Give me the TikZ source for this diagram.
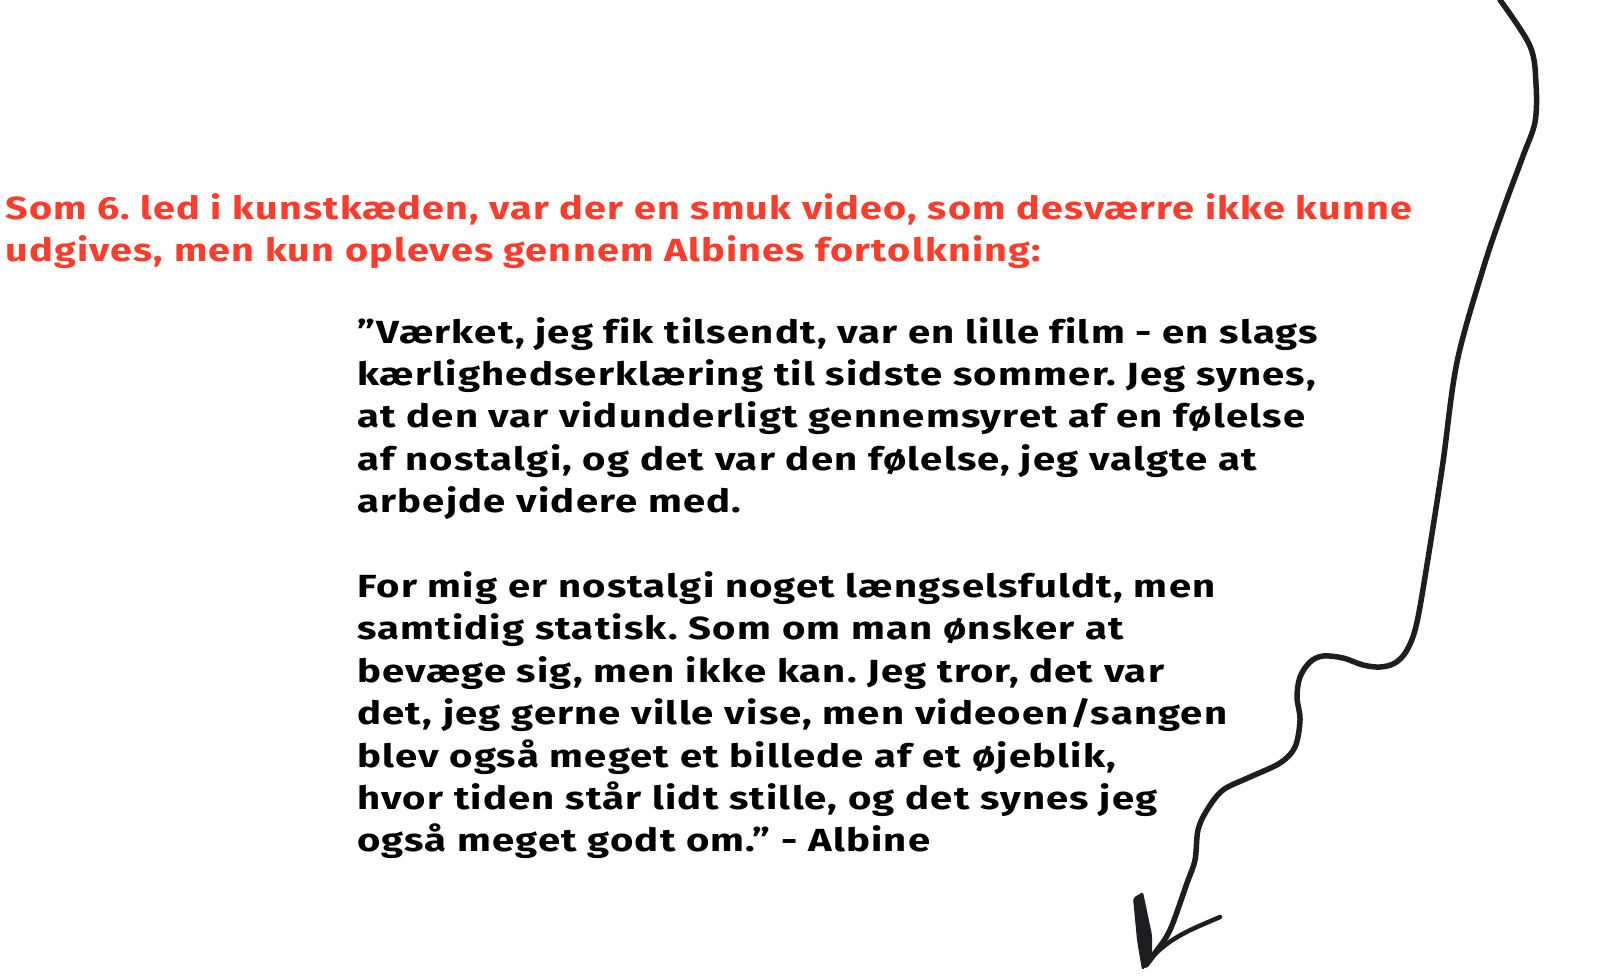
\documentclass[tikz,border=0pt]{standalone}
\usepackage{fontspec}
\usepackage{graphicx}
\newfontfamily\qfont{Fira Sans}[LetterSpace=3, Ligatures=NoCommon]
\definecolor{headred}{RGB}{255,59,43}
\definecolor{ink}{RGB}{30,30,32}
\newsavebox\probebox
\newsavebox\probeboxred
\newlength\probewd
\newlength\probewdred
\frenchspacing
\begin{document}
\sbox\probebox{\qfont\bfseries\fontsize{32}{40}\selectfont ”Værket, jeg fik tilsendt, var en lille film - en slags}%
\sbox\probeboxred{\qfont\bfseries\fontsize{32}{40}\selectfont Som 6. led i kunstkæden, var der en smuk video, som desværre ikke kunne}%
\setlength\probewd{\wd\probebox}%
\setlength\probewdred{\wd\probeboxred}%
\pgfmathsetmacro\qstretch{961/\probewd}%
\pgfmathsetmacro\rstretch{1407/\probewdred}%
\begin{tikzpicture}[x=1pt,y=-1pt]
\useasboundingbox[fill=white] (0,0) rectangle (1600,979);
\tikzset{
  quoteline/.style={anchor=base west, inner sep=0pt, text=black,
    font=\qfont\bfseries\fontsize{32}{40}\selectfont},
  headline/.style={anchor=base west, inner sep=0pt, text=headred,
    font=\qfont\bfseries\fontsize{32}{40}\selectfont},
  arrowink/.style={draw=ink, line width=5.5pt, line cap=round, line join=round}
}
% heading
\node[headline] (r1) at (5,219) {\scalebox{\rstretch}[1]{Som 6. led i kunstkæden, var der en smuk video, som desværre ikke kunne}};
\node[headline] (r2) at (5,261) {\scalebox{\rstretch}[1]{udgives, men kun opleves gennem Albines fortolkning:}};
% quote, paragraph 1
\node[quoteline] (q1) at (357,343.0) {\scalebox{\qstretch}[1]{”Værket, jeg fik tilsendt, var en lille film - en slags}};
\node[quoteline] (q2) at (357,385.4) {\scalebox{\qstretch}[1]{kærlighedserklæring til sidste sommer. Jeg synes,}};
\node[quoteline] (q3) at (357,427.8) {\scalebox{\qstretch}[1]{at den var vidunderligt gennemsyret af en følelse}};
\node[quoteline] (q4) at (357,470.2) {\scalebox{\qstretch}[1]{af nostalgi, og det var den følelse, jeg valgte at}};
\node[quoteline] (q5) at (357,512.6) {\scalebox{\qstretch}[1]{arbejde videre med.}};
% quote, paragraph 2
\node[quoteline] (q6) at (357,597.4) {\scalebox{\qstretch}[1]{For mig er nostalgi noget længselsfuldt, men}};
\node[quoteline] (q7) at (357,639.8) {\scalebox{\qstretch}[1]{samtidig statisk. Som om man ønsker at}};
\node[quoteline] (q8) at (357,682.2) {\scalebox{\qstretch}[1]{bevæge sig, men ikke kan. Jeg tror, det var}};
\node[quoteline] (q9) at (357,724.6) {\scalebox{\qstretch}[1]{det, jeg gerne ville vise, men videoen/sangen}};
\node[quoteline] (q10) at (357,767.0) {\scalebox{\qstretch}[1]{blev også meget et billede af et øjeblik,}};
\node[quoteline] (q11) at (357,809.4) {\scalebox{\qstretch}[1]{hvor tiden står lidt stille, og det synes jeg}};
\node[quoteline] (q12) at (357,851.8) {\scalebox{\qstretch}[1]{også meget godt om.” - Albine}};
% hand-drawn arrow
\coordinate (arrowtail) at (1500,0);
\coordinate (arrowtip) at (1146,965);
\draw[arrowink] plot[smooth, tension=0.55] coordinates {
  (arrowtail) (1530,46) (1536,84) (1535,122) (1523,156) (1503,210)
  (1483,269) (1457,362) (1443,462) (1430,546) (1417,622) (1407,650)
  (1395,663) (1380,667) (1363,665) (1343,658) (1323,656) (1310,662)
  (1300,677) (1297,697) (1300,720) (1295,747) (1280,763) (1250,777)
  (1223,790) (1207,810) (1198,830) (1195,860) (1187,883) (1170,930)
  (1155,953) (arrowtip)};
\draw[arrowink, line width=4.5pt] (1220,917) .. controls (1195,928) and (1165,938) .. (arrowtip);
\fill[ink, rounded corners=2pt] (1133,898) -- (1143,892) -- (1152,935) -- (1152,962) -- (1142,970) -- (1137,940) -- cycle;
\end{tikzpicture}
\end{document}
